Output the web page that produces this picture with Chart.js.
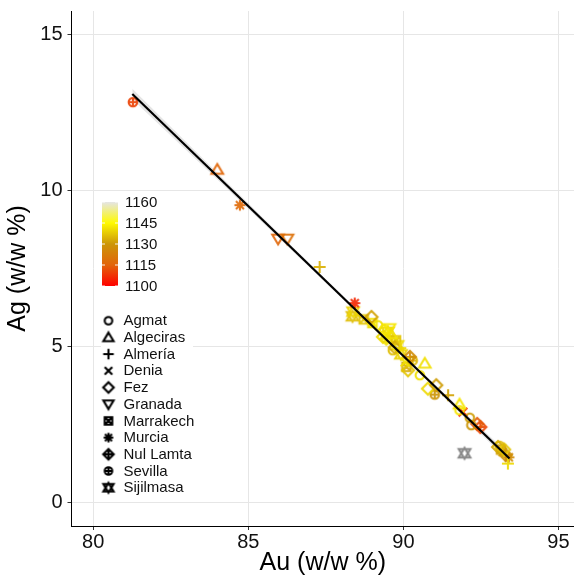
<!DOCTYPE html>
<html>
<head>
<meta charset="utf-8">
<script src="https://cdn.jsdelivr.net/npm/chart.js@4.4.0/dist/chart.umd.min.js"></script>
<style>
  html, body { margin: 0; padding: 0; background: #fff; }
  #wrap { width: 574px; height: 576px; }
</style>
</head>
<body>
<div id="wrap"><canvas id="myChart" width="574" height="576"></canvas></div>
<script>
// mints and the marker used for each one
var mints = ['Agmat', 'Algeciras', 'Almería', 'Denia', 'Fez', 'Granada', 'Marrakech', 'Murcia', 'Nul Lamta', 'Sevilla', 'Sijilmasa'];
var shapes = ['circle', 'triangle', 'plus', 'cross', 'diamond', 'triangleDown', 'boxX', 'asterisk', 'diamondPlus', 'circlePlus', 'star6'];

// coin analyses: gold, silver, mint, date (null = undated)
var au = [81.28, 84.00, 84.73, 85.96, 86.26, 87.30, 88.43, 88.36, 88.38, 88.72,
          88.97, 89.18, 89.38, 89.50, 89.60, 89.34, 89.55, 89.00, 89.76, 89.81,
          89.66, 89.72, 89.45, 89.90, 90.21, 90.05, 90.10, 90.69, 90.15, 90.53,
          90.30, 90.79, 91.06, 91.01, 91.44, 91.81, 91.81, 91.92, 92.14, 92.19,
          92.38, 92.48, 91.97, 93.05, 93.10, 93.15, 93.20, 93.25, 93.30, 93.40,
          93.37, 89.92];
var ag = [12.83, 10.67, 9.53, 8.45, 8.45, 7.55, 6.39, 5.97, 6.12, 5.87,
          5.95, 5.68, 5.55, 5.47, 5.40, 5.31, 5.58, 5.75, 5.20, 5.04,
          4.88, 4.97, 5.25, 4.95, 4.67, 4.50, 4.35, 4.46, 4.24, 4.08,
          4.55, 3.65, 3.76, 3.46, 3.44, 3.15, 2.96, 2.90, 2.72, 2.48,
          2.52, 2.42, 1.58, 1.78, 1.82, 1.70, 1.62, 1.70, 1.52, 1.45,
          1.25, 4.75];
var mint = ['Sevilla', 'Algeciras', 'Murcia', 'Granada', 'Granada', 'Almería', 'Murcia', 'Sijilmasa', 'Sijilmasa', 'Marrakech',
            'Fez', 'Agmat', 'Agmat', 'Sijilmasa', 'Algeciras', 'Fez', 'Granada', 'Marrakech', 'Marrakech', 'Sijilmasa',
            'Agmat', 'Fez', 'Nul Lamta', 'Almería', 'Nul Lamta', 'Denia', 'Marrakech', 'Algeciras', 'Fez', 'Agmat',
            'Sevilla', 'Fez', 'Fez', 'Sevilla', 'Almería', 'Algeciras', 'Agmat', 'Denia', 'Agmat', 'Agmat',
            'Fez', 'Nul Lamta', 'Sijilmasa', 'Fez', 'Agmat', 'Marrakech', 'Murcia', 'Fez', 'Nul Lamta', 'Murcia',
            'Almería', 'Sijilmasa'];
var year = [1110, 1116, 1117, 1116, 1119, 1134, 1106, 1136, 1139, 1137,
            1132, 1141, 1142, 1140, 1141, 1140, 1142, 1141, 1137, 1141,
            1136, 1133, 1141, 1140, 1127, 1141, 1133, 1141, 1137, 1141,
            1135, 1140, 1131, 1130, 1132, 1142, 1142, 1104, 1131, 1130,
            1114, 1111, null, 1133, 1135, 1131, 1132, 1137, 1129, 1127,
            1140, 1139];

// linear fit and its confidence band
var fitAu = [81.26, 93.42];
var fitAg = [13.09, 1.41];
var bandAu = [81.26, 84.30, 87.30, 90.30, 93.42];
var bandLo = [12.92, 10.07, 7.23, 4.36, 1.29];
var bandHi = [13.26, 10.27, 7.35, 4.46, 1.53];

var xTicks = [80, 85, 90, 95];
var yTicks = [0, 5, 10, 15];
var dateTicks = [1100, 1115, 1130, 1145, 1160];

var FONT = "'Liberation Sans', Arial, sans-serif";

// date -> colour
var colourStops = [
  [1100, [255, 0, 0]],
  [1115, [226, 100, 10]],
  [1130, [204, 150, 8]],
  [1145, [255, 250, 0]],
  [1160, [229, 229, 229]]
];
function colourFor(y, alpha) {
  if (y === null || y === undefined) return 'rgba(127,127,127,' + alpha + ')';
  var s = colourStops;
  if (y <= s[0][0]) return 'rgba(' + s[0][1].join(',') + ',' + alpha + ')';
  for (var i = 1; i < s.length; i++) {
    if (y <= s[i][0]) {
      var t = (y - s[i - 1][0]) / (s[i][0] - s[i - 1][0]);
      var c = s[i - 1][1].map(function (v, k) { return Math.round(v + (s[i][1][k] - v) * t); });
      return 'rgba(' + c.join(',') + ',' + alpha + ')';
    }
  }
  return 'rgba(' + s[s.length - 1][1].join(',') + ',' + alpha + ')';
}

// open marker symbols drawn onto small canvases
var symCache = {};
function makeSymbol(shape, colour, k, lw) {
  var key = shape + colour + k + lw;
  if (symCache[key]) return symCache[key];
  var c = document.createElement('canvas');
  c.width = 18; c.height = 18;
  var g = c.getContext('2d');
  g.translate(9, 9);
  g.scale(k, k);
  g.strokeStyle = colour;
  g.lineWidth = lw / k;
  g.beginPath();
  function tri(d) {
    g.moveTo(0, -5.5 * d); g.lineTo(5.8, 4.3 * d); g.lineTo(-5.8, 4.3 * d); g.closePath();
  }
  function plus(r) { g.moveTo(-r, 0); g.lineTo(r, 0); g.moveTo(0, -r); g.lineTo(0, r); }
  function cross(r) { g.moveTo(-r, -r); g.lineTo(r, r); g.moveTo(-r, r); g.lineTo(r, -r); }
  function diamond(r) { g.moveTo(0, -r); g.lineTo(r, 0); g.lineTo(0, r); g.lineTo(-r, 0); g.closePath(); }
  switch (shape) {
    case 'circle': g.arc(0, 0, 4.3, 0, Math.PI * 2); break;
    case 'triangle': tri(1); break;
    case 'plus': plus(6); break;
    case 'cross': cross(4.3); break;
    case 'diamond': diamond(6); break;
    case 'triangleDown': tri(-1); break;
    case 'boxX': g.rect(-4.3, -4.3, 8.6, 8.6); cross(4.3); break;
    case 'asterisk': plus(5.5); cross(4); break;
    case 'diamondPlus': diamond(6); plus(6); break;
    case 'circlePlus': g.arc(0, 0, 4.3, 0, Math.PI * 2); plus(4.3); break;
    case 'star6': tri(1); g.moveTo(0, 5.5); g.lineTo(5.8, -4.3); g.lineTo(-5.8, -4.3); g.closePath(); break;
  }
  g.stroke();
  symCache[key] = c;
  return c;
}

var datasets = [];
datasets.push({
  type: 'line', label: 'fit', order: 0,
  data: fitAu.map(function (x, i) { return { x: x, y: fitAg[i] }; }),
  borderColor: '#000', borderWidth: 2.2, pointRadius: 0, fill: false
});
datasets.push({
  type: 'line', label: 'band', order: 3,
  data: bandAu.map(function (x, i) { return { x: x, y: bandHi[i] }; }),
  borderWidth: 0, borderColor: 'rgba(0,0,0,0)', pointRadius: 0,
  fill: '+1', backgroundColor: 'rgba(170,170,170,0.3)'
});
datasets.push({
  type: 'line', label: 'band lo', order: 3,
  data: bandAu.map(function (x, i) { return { x: x, y: bandLo[i] }; }),
  borderWidth: 0, borderColor: 'rgba(0,0,0,0)', pointRadius: 0, fill: false
});
mints.forEach(function (m, k) {
  var pts = [];
  for (var i = 0; i < au.length; i++) {
    if (mint[i] === m) pts.push({ x: au[i], y: ag[i], year: year[i] });
  }
  datasets.push({
    type: 'scatter', label: m, order: 1, data: pts,
    pointRadius: 5,
    pointStyle: function (ctx) {
      if (!ctx.raw) return 'circle';
      return makeSymbol(shapes[k], colourFor(ctx.raw.year, 0.92), 1, 2.1);
    }
  });
});

// colour bar and shape key drawn over the panel
var keyPlugin = {
  id: 'mintKey',
  afterDraw: function (chart) {
    var ctx = chart.ctx;
    ctx.save();
    ctx.fillStyle = '#fff';
    ctx.fillRect(101, 193, 64, 103);
    ctx.fillRect(101, 309, 92, 190);

    // colour bar
    var top = 202, bot = 286, x0 = 102, w = 16;
    var lo = dateTicks[0], hi = dateTicks[dateTicks.length - 1];
    var grad = ctx.createLinearGradient(0, bot, 0, top);
    colourStops.forEach(function (s) { grad.addColorStop((s[0] - lo) / (hi - lo), colourFor(s[0], 1)); });
    ctx.fillStyle = grad;
    ctx.fillRect(x0, top, w, bot - top);
    ctx.strokeStyle = 'rgba(255,255,255,0.9)';
    ctx.lineWidth = 1;
    ctx.font = '15px ' + FONT;
    ctx.fillStyle = '#111';
    ctx.textBaseline = 'middle';
    ctx.textAlign = 'left';
    dateTicks.forEach(function (d) {
      var y = bot - (d - lo) / (hi - lo) * (bot - top);
      ctx.beginPath();
      ctx.moveTo(x0, y); ctx.lineTo(x0 + 3, y);
      ctx.moveTo(x0 + w - 3, y); ctx.lineTo(x0 + w, y);
      ctx.stroke();
      ctx.fillText(String(d), 125, y + 0.5);
    });

    // shapes
    mints.forEach(function (m, k) {
      var y = 320.7 + k * 16.7;
      var img = makeSymbol(shapes[k], '#000', 0.88, 2.1);
      ctx.drawImage(img, 108.5 - 9, y - 9);
      ctx.fillStyle = '#111';
      ctx.fillText(m, 123.5, y + 0.5);
    });
    ctx.restore();
  }
};

var ctx = document.getElementById('myChart').getContext('2d');
var myChart = new Chart(ctx, {
  type: 'scatter',
  data: { datasets: datasets },
  options: {
    responsive: false,
    animation: false,
    events: [],
    layout: { autoPadding: false, padding: { top: 11, right: 0, left: 0, bottom: 0 } },
    plugins: { legend: { display: false }, tooltip: { enabled: false } },
    scales: {
      x: {
        type: 'linear', min: 79.3, max: 95.5,
        afterBuildTicks: function (s) { s.ticks = xTicks.map(function (v) { return { value: v }; }); },
        afterFit: function (s) { s.height = 50; s.paddingLeft = 0; s.paddingRight = 0; },
        grid: { color: '#e6e6e6', lineWidth: 1, tickColor: '#333', tickLength: 4 },
        border: { display: true, color: '#000', width: 1 },
        ticks: { font: { family: FONT, size: 20 }, color: '#111', padding: 0, maxRotation: 0 },
        title: { display: true, text: 'Au (w/w %)', color: '#000',
                 font: { family: FONT, size: 25, lineHeight: 1 }, padding: { top: 0, bottom: 0 } }
      },
      y: {
        type: 'linear', min: -0.75, max: 15.75,
        afterBuildTicks: function (s) { s.ticks = yTicks.map(function (v) { return { value: v }; }); },
        afterFit: function (s) { s.width = 71.5; s.paddingTop = 0; s.paddingBottom = 0; },
        grid: { color: '#e6e6e6', lineWidth: 1, tickColor: '#333', tickLength: 4 },
        border: { display: true, color: '#000', width: 1 },
        ticks: { font: { family: FONT, size: 20 }, color: '#111', padding: 5 },
        title: { display: true, text: 'Ag (w/w %)', color: '#000',
                 font: { family: FONT, size: 25, lineHeight: 1 }, padding: { top: 6, bottom: 0 } }
      }
    }
  },
  plugins: [keyPlugin]
});
</script>
</body>
</html>
